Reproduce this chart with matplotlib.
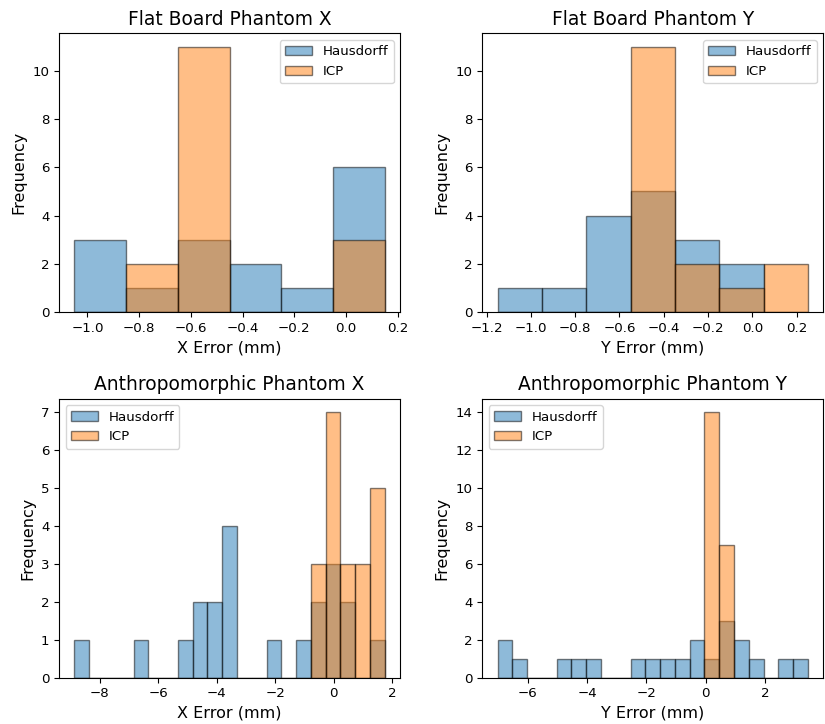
import numpy as np
import matplotlib
matplotlib.use("Agg")
import matplotlib.pyplot as plt

# Flat board phantom X: bins of 0.2 mm
fbx_edges = [-1.05, -0.85, -0.65, -0.45, -0.25, -0.05, 0.15]
fbx_haus = [3, 1, 3, 2, 1, 6]
fbx_icp = [0, 2, 11, 0, 0, 3]

# Flat board phantom Y
fby_edges = [-1.15, -0.95, -0.75, -0.55, -0.35, -0.15, 0.05, 0.25]
fby_haus = [1, 1, 4, 5, 3, 2, 0]
fby_icp = [0, 0, 0, 11, 2, 1, 2]

# Anthropomorphic phantom X: 21 shared bins
apx_lo, apx_hi = -8.87, 1.74
apx_haus = [1, 0, 0, 0, 1, 0, 0, 1, 2, 2, 4, 0, 0, 1, 0, 1, 2, 3, 2, 0, 1]
apx_icp = [0, 0, 0, 0, 0, 0, 0, 0, 0, 0, 0, 0, 0, 0, 0, 0, 3, 7, 3, 3, 5]

# Anthropomorphic phantom Y: 21 shared bins
apy_lo, apy_hi = -7.01, 3.44
apy_haus = [2, 1, 0, 0, 1, 1, 1, 0, 0, 1, 1, 1, 1, 2, 1, 3, 2, 1, 0, 1, 1]
apy_icp = [0, 0, 0, 0, 0, 0, 0, 0, 0, 0, 0, 0, 0, 0, 14, 7, 0, 0, 0, 0, 0]

apx_edges = np.linspace(apx_lo, apx_hi, len(apx_haus) + 1)
apy_edges = np.linspace(apy_lo, apy_hi, len(apy_haus) + 1)

panels = [
    ("Flat Board Phantom X", "X Error (mm)", fbx_edges, fbx_haus, fbx_icp, "upper right"),
    ("Flat Board Phantom Y", "Y Error (mm)", fby_edges, fby_haus, fby_icp, "upper right"),
    ("Anthropomorphic Phantom X", "X Error (mm)", apx_edges, apx_haus, apx_icp, "upper left"),
    ("Anthropomorphic Phantom Y", "Y Error (mm)", apy_edges, apy_haus, apy_icp, "upper left"),
]

fig, axes = plt.subplots(2, 2, figsize=(8.25, 7.24), dpi=100)
fig.subplots_adjust(left=0.0715, right=0.998, bottom=0.064, top=0.954,
                    wspace=0.24, hspace=0.31)

for ax, (title, xlabel, edges, haus, icp, loc) in zip(axes.flat, panels):
    edges = np.asarray(edges)
    centers = (edges[:-1] + edges[1:]) / 2
    ax.hist(centers, bins=edges, weights=haus, alpha=0.5, edgecolor="black",
            color="C0", label="Hausdorff")
    ax.hist(centers, bins=edges, weights=icp, alpha=0.5, edgecolor="black",
            color="C1", label="ICP")
    ax.set_title(title, fontsize=13.4)
    ax.set_xlabel(xlabel, fontsize=11.5)
    ax.set_ylabel("Frequency", fontsize=11.5)
    ax.tick_params(labelsize=9.6)
    ax.legend(loc=loc, fontsize=9.6)

axes[0, 0].set_xticks([-1.0, -0.8, -0.6, -0.4, -0.2, 0.0, 0.2])
axes[0, 1].set_xticks([-1.2, -1.0, -0.8, -0.6, -0.4, -0.2, 0.0, 0.2])

fig.savefig("out.png", dpi=100)
